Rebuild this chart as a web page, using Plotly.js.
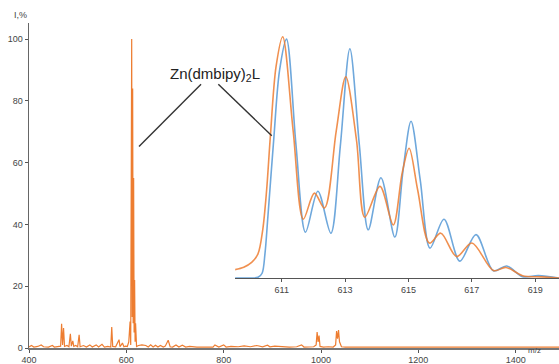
<!DOCTYPE html>
<html><head><meta charset="utf-8">
<script src="https://cdn.plot.ly/plotly-3.0.1.min.js"></script>
<style>html,body{margin:0;padding:0;background:#fff}#c{width:559px;height:364px}</style>
</head><body><div id="c"></div>
<script>
// Full spectrum (m/z, I %)
const mzFull = [400,405,410,418,425,430,440,448,452,460,465,467,469,471,473,478,482,485,487,490,492,496,500,503,505,512,518,525,530,538,543,550,555,562,568,570,572,578,585,587,592,595,598,602,605,607.7,609,611,612,613,614,615,616,617,618,619,621,625,632,640,645,650,655,660,665,670,676,680,686,690,695,702,708,715,722,730,745,760,778,782,790,800,805,815,830,842,855,868,880,890,895,905,920,935,950,960,965,975,985,990,992,994,996,998,1005,1015,1025,1030,1032,1034,1036,1038,1040,1042,1050,1070,1100,1130,1160,1200,1230,1260,1300,1340,1380,1420,1460,1489];
const intFull = [0.3,0.8,0.3,0.5,1.0,0.4,0.3,0.8,0.3,0.5,0.6,7.8,1.0,6.5,0.5,0.8,0.4,4.6,0.6,2.3,0.5,0.8,0.4,4.3,0.4,0.8,0.3,1.0,0.3,1.0,0.3,1.2,0.3,0.5,0.3,6.8,0.5,0.4,2.7,0.4,1.6,0.4,0.6,0.5,2.0,8.6,1.0,100,10,84,8,55,5,22,2,8,0.5,0.8,1.0,0.8,0.3,1.0,0.3,0.9,0.3,0.8,0.3,0.6,2.5,0.4,0.3,1.0,0.3,0.9,0.3,0.5,0.3,0.4,0.3,1.0,0.3,1.0,0.3,0.5,0.4,0.7,0.4,0.8,0.4,0.9,0.4,0.6,0.4,0.3,0.4,1.0,0.3,0.3,0.4,1.0,5.2,2.0,4.0,0.5,0.3,0.4,0.3,1.0,5.5,3.0,5.8,2.0,1.0,0.4,0.3,0.3,0.3,0.4,0.3,0.4,0.3,0.3,0.3,0.3,0.4,0.3,0.3,0.3];

// Inset: experimental (orange) and calculated (blue) isotope patterns
const mzExp  = [609.5,609.8,610.05,610.25,610.4,610.52,610.64,610.82,611.03,611.36,611.68,612.03,612.35,612.72,613.02,613.36,613.62,614.1,614.52,614.8,615.02,615.29,615.66,616.02,616.52,617.0,617.68,618.08,618.6,619.2,619.75];
const intExp = [3.4,4.5,6.5,10,20,36,58.6,87.6,100,61,24.4,35.2,29,61,83.4,57,25.2,38,22,43.5,53.8,36.5,14.5,18.6,8.9,14.5,3.1,4.4,1,0.5,0];
const mzCalc  = [609.5,610.0,610.25,610.38,610.47,610.56,610.75,610.93,611.15,611.45,611.75,612.14,612.55,612.85,613.15,613.45,613.73,614.13,614.57,614.83,615.08,615.37,615.68,616.12,616.62,617.13,617.68,618.1,618.6,619.1,619.75];
const intCalc = [0,0,0.3,2,10,25,58,86,99,55,19,36,18.6,55,95,55,20,41.6,17,44.8,65,40.7,12.4,24.4,7,18,3,5,0.6,1,0];

const xTicks = [400,600,800,1000,1200,1400];
const yTicks = [0,20,40,60,80,100];
const insetTicks = [611,613,615,617,619];

const orange = '#ED7D31', blue = '#6FA8DC';
const tf = {family:'Liberation Sans, Arial, sans-serif', size:9, color:'#444'};

const data = [
  {x:mzFull, y:intFull, type:'scatter', mode:'lines', line:{color:orange, width:1.2}, xaxis:'x', yaxis:'y', hoverinfo:'skip'},
  {x:mzCalc, y:intCalc, type:'scatter', mode:'lines', line:{color:blue, width:1.6, shape:'spline', smoothing:0.9}, xaxis:'x2', yaxis:'y2'},
  {x:mzExp, y:intExp, type:'scatter', mode:'lines', line:{color:orange, width:1.6, shape:'spline', smoothing:0.9}, xaxis:'x2', yaxis:'y2', opacity:0.85}
];

const layout = {
  width:559, height:364, showlegend:false,
  margin:{l:29, r:0, t:23, b:16},
  paper_bgcolor:'#fff', plot_bgcolor:'rgba(0,0,0,0)',
  xaxis:{range:[400,1489], tickvals:xTicks, ticks:'outside', ticklen:3, tickcolor:'#555', showline:true, linecolor:'#777', linewidth:1.5, showgrid:false, zeroline:false, tickfont:tf},
  yaxis:{range:[0,105.2], tickvals:yTicks, ticks:'outside', ticklen:3, tickcolor:'#555', showline:true, linecolor:'#666', linewidth:1.5, showgrid:false, zeroline:false, tickfont:tf},
  xaxis2:{domain:[0.389,1], anchor:'y2', range:[609.53,619.75], tickvals:insetTicks, ticks:'outside', ticklen:3, tickcolor:'#555', showline:true, linecolor:'#555', linewidth:1.2, showgrid:false, zeroline:false, tickfont:tf},
  yaxis2:{domain:[0.2152,0.9785], anchor:'x2', range:[0,102.8], visible:false},
  shapes:[
    {type:'line', xref:'x', yref:'y', x0:626, y0:65.2, x1:753.5, y1:85.4, line:{color:'#333', width:1.4}},
    {type:'line', xref:'x', yref:'y', x0:789, y0:85.4, x1:898.8, y1:68.7, line:{color:'#333', width:1.4}}
  ],
  annotations:[
    {xref:'x', yref:'y', x:782, y:88.4, text:'Zn(dmbipy)<sub>2</sub>L', showarrow:false, font:{family:'Liberation Sans, Arial, sans-serif', size:15, color:'#222'}},
    {xref:'paper', yref:'paper', x:-0.032, y:1.046, text:'I,%', showarrow:false, font:tf},
    {xref:'paper', yref:'paper', x:0.97, y:-0.027, text:'m/z', showarrow:false, font:{family:'Liberation Sans, Arial, sans-serif', size:8, color:'#444'}}
  ]
};
Plotly.newPlot('c', data, layout, {displayModeBar:false, staticPlot:true});
</script></body></html>
